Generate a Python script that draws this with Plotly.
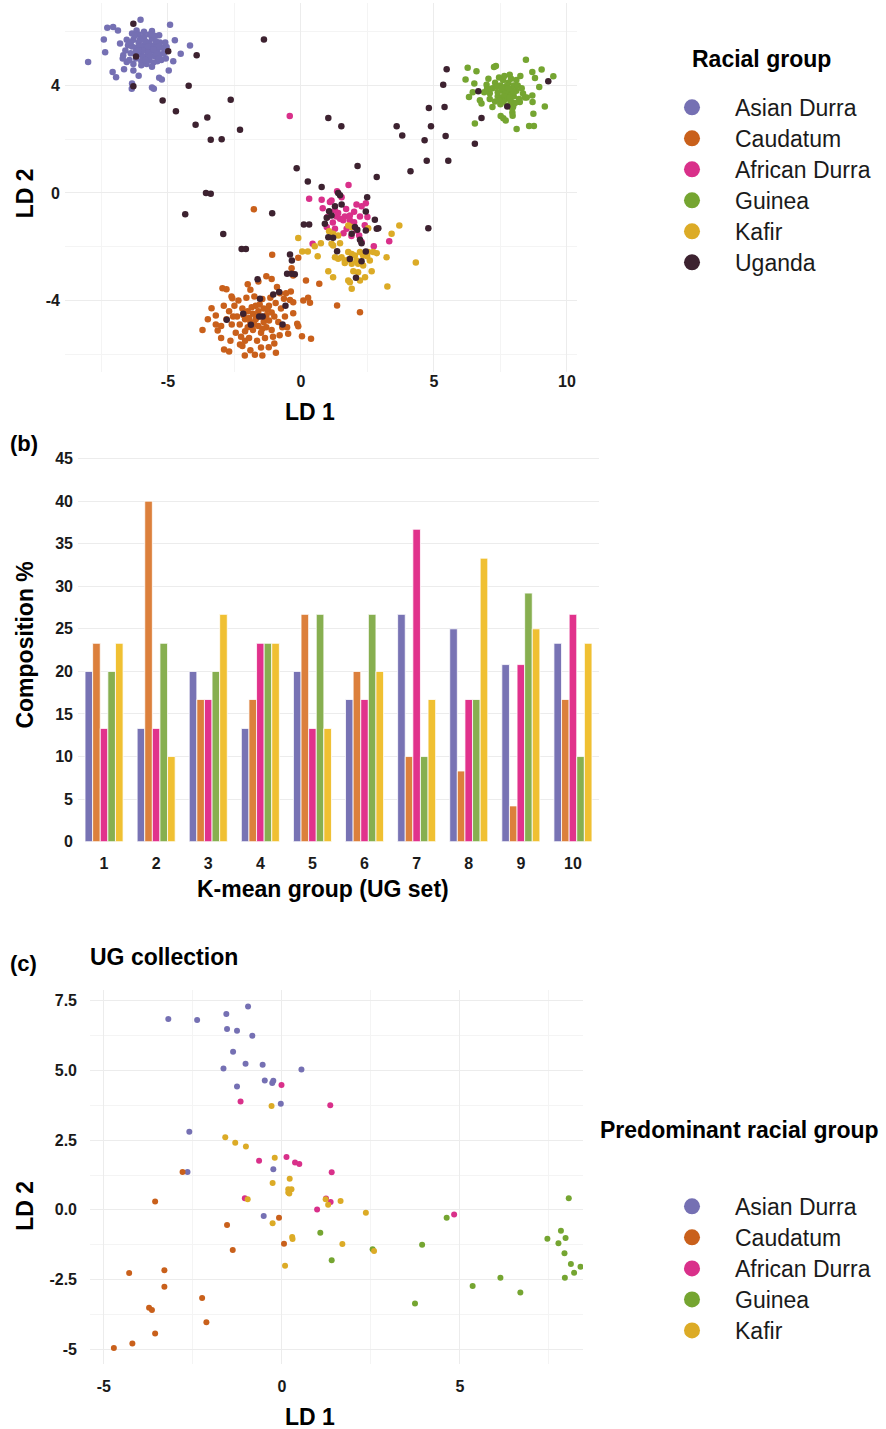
import plotly.graph_objects as go

FONT = "Liberation Sans, Arial, Helvetica, sans-serif"
INK = "#1a1a1a"

RACE_A = ["Asian Durra", "Caudatum", "African Durra", "Guinea", "Kafir", "Uganda"]
RACE_C = ["Asian Durra", "Caudatum", "African Durra", "Guinea", "Kafir"]
PT_COLORS = {"Asian Durra": "#7570b3", "Caudatum": "#c9601b", "African Durra": "#d9308a",
             "Guinea": "#75a531", "Kafir": "#dcab26", "Uganda": "#3d2230"}
BAR_COLORS = ["#7873b4", "#dc803c", "#e1328c", "#87af50", "#f0c032"]

# ---------------- panel (a): LD scores, all accessions ----------------
A_ASIAN = [(-8.00, 4.87), (-7.41, 5.71), (-7.36, 5.24), (-7.28, 6.15), (-7.06, 6.18), (-6.88, 6.05),
           (-7.08, 4.50), (-6.95, 4.31), (-6.35, 4.07), (-6.36, 3.88), (-5.60, 3.92), (-5.53, 3.88),
           (-6.03, 6.45), (-4.92, 6.26), (-4.74, 5.68), (-4.17, 5.49), (-4.52, 5.18), (-4.80, 4.90),
           (-4.97, 4.56), (-5.23, 4.22), (-5.33, 4.29), (-6.65, 4.60), (-6.30, 4.56), (-6.10, 4.36),
           (-6.80, 5.56), (-6.68, 5.12), (-6.55, 4.87), (-6.35, 5.93), (-6.18, 6.05), (-5.60, 6.03),
           (-5.33, 5.87), (-5.08, 5.00), (-5.05, 5.43),
           (-6.5, 5.5), (-6.4, 5.2), (-6.3, 5.7), (-6.2, 5.0), (-6.2, 5.4), (-6.1, 5.9), (-6.1, 5.6),
           (-6.0, 5.2), (-6.0, 4.9), (-5.9, 5.5), (-5.9, 5.8), (-5.8, 5.1), (-5.8, 5.35), (-5.7, 5.6),
           (-5.7, 4.95), (-5.6, 5.3), (-5.6, 5.75), (-5.5, 5.1), (-5.5, 5.5), (-5.4, 5.3), (-5.4, 4.9),
           (-5.3, 5.6), (-5.3, 5.15), (-5.2, 5.4), (-6.6, 5.3), (-6.45, 4.95), (-6.35, 5.45),
           (-6.25, 5.85), (-6.15, 5.15), (-6.05, 5.45), (-5.95, 5.05), (-5.85, 5.65), (-5.75, 5.25),
           (-5.65, 5.45), (-5.55, 4.85), (-5.45, 5.65), (-5.35, 5.45), (-5.25, 4.95), (-5.15, 5.2),
           (-5.1, 5.6), (-6.7, 5.0), (-6.55, 5.7), (-5.9, 6.0), (-5.7, 5.9), (-5.5, 5.85), (-6.0, 4.75),
           (-5.8, 4.8), (-5.6, 4.7), (-6.3, 4.8), (-5.75, 5.45), (-5.95, 5.3), (-6.05, 5.7),
           (-5.65, 5.1), (-5.85, 4.95), (-6.4, 5.6), (-6.2, 5.25), (-5.45, 5.2), (-5.55, 5.35),
           (-6.1, 5.3), (-5.35, 5.0)]
A_CAUD = [(-1.77, -0.61), (-1.08, -2.30), (-3.70, -5.10), (-3.13, -5.12), (-3.36, -4.29), (-3.20, -4.56),
          (-2.95, -3.55), (-2.80, -3.58), (-2.61, -3.85), (-2.58, -3.92), (-2.11, -6.05), (-1.73, -6.02),
          (-1.45, -6.05), (-0.94, -5.95), (-1.21, -5.74), (-2.89, -5.83), (-2.29, -5.64), (-2.1, -5.5),
          (-0.10, -2.41), (-0.35, -2.80), (-0.29, -3.07), (0.19, -3.26), (0.69, -3.38), (-0.79, -3.73),
          (-0.56, -3.73), (-0.38, -3.67), (-0.64, -3.94), (-0.41, -3.98), (-0.29, -4.07), (0.09, -4.00),
          (0.27, -3.90), (0.34, -4.09), (-0.29, -4.48), (-0.14, -4.87), (-0.10, -4.96), (-0.52, -5.00),
          (-0.48, -5.24), (0.04, -5.33), (0.38, -5.43), (1.36, -4.19), (2.22, -4.44), (-1.6, -3.3),
          (-1.3, -3.1), (-1.1, -3.2), (-2.0, -3.4), (-1.9, -3.6), (-0.9, -3.5), (-3.0, -5.4),
          (-2.7, -5.9), (-1.0, -5.6), (-0.8, -5.3), (-0.6, -4.6), (-3.5, -4.7), (-3.2, -4.9),
          (-2.5, -4.2), (-2.4, -4.6), (-2.3, -4.9), (-2.2, -4.3), (-2.1, -4.7), (-2.0, -5.0),
          (-2.0, -4.4), (-1.9, -4.8), (-1.8, -4.5), (-1.8, -5.1), (-1.7, -4.2), (-1.7, -4.7),
          (-1.6, -4.95), (-1.6, -4.4), (-1.5, -4.6), (-1.5, -5.2), (-1.4, -4.3), (-1.4, -4.8),
          (-1.3, -4.55), (-1.3, -5.0), (-1.2, -4.2), (-1.2, -4.75), (-1.1, -4.45), (-1.1, -5.1),
          (-1.0, -4.6), (-2.6, -4.9), (-2.7, -4.4), (-2.8, -4.7), (-2.45, -5.2), (-2.25, -5.35),
          (-1.95, -5.4), (-1.65, -5.5), (-1.35, -5.4), (-2.35, -4.0), (-2.05, -3.9), (-1.75, -3.85),
          (-1.45, -3.95), (-1.15, -3.9), (-0.95, -4.1), (-0.85, -4.8), (-2.15, -4.55), (-1.85, -4.25),
          (-1.55, -4.15), (-1.25, -4.35), (-1.95, -4.65), (-1.65, -4.6), (-1.35, -4.65), (-2.55, -4.6),
          (-1.75, -4.9), (-2.1, -5.15), (-1.45, -5.05), (-0.75, -4.3), (-0.7, -5.0), (-2.9, -4.2),
          (-3.0, -4.95), (-2.2, -5.7), (-1.9, -5.85), (-1.5, -5.75), (-2.65, -5.5), (-1.05, -5.35)]
A_AFR = [(-0.42, 2.86), (1.79, 0.30), (1.36, 0.06), (0.31, -0.22), (0.78, -0.25), (1.09, -0.34),
         (1.15, -0.28), (1.53, -0.16), (0.82, -0.57), (1.28, -0.65), (1.34, -0.88), (1.47, -0.96),
         (1.65, -0.88), (1.84, -0.84), (2.09, -0.43), (2.28, -0.50), (2.44, -0.38), (1.84, -1.02),
         (1.91, -1.12), (2.00, -1.09), (2.22, -0.88), (0.97, -1.27), (1.28, -1.33), (1.72, -1.33),
         (2.09, -1.40), (2.19, -1.58), (2.28, -1.83), (2.74, -1.98), (3.32, -1.80), (0.44, -1.89),
         (1.59, -1.02), (1.4, -0.75), (1.7, -0.6), (2.0, -0.7), (1.2, -1.1), (2.4, -1.2), (1.0, -0.9),
         (1.6, -1.5), (2.5, -0.9), (1.9, -1.6)]
A_GUIN = [(8.46, 4.96), (6.27, 4.66), (6.60, 4.53), (7.26, 4.69), (7.33, 4.72), (9.05, 4.59), (8.70, 4.50),
          (9.49, 4.34), (8.80, 4.28), (8.96, 3.94), (6.19, 4.22), (6.52, 4.07), (6.98, 4.03), (6.32, 3.57),
          (6.46, 3.75), (6.89, 3.75), (7.10, 3.71), (6.73, 3.45), (6.79, 3.33), (9.17, 3.22), (8.70, 3.63),
          (8.49, 3.55), (8.71, 3.38), (8.74, 2.95), (8.58, 2.49), (8.76, 2.49), (8.11, 2.38), (6.54, 2.58),
          (7.51, 2.86), (7.61, 2.78), (7.70, 2.70), (7.95, 2.99), (7.96, 2.87), (7.86, 3.22), (7.98, 3.22),
          (8.23, 3.38), (8.42, 3.55),
          (7.2, 3.9), (7.3, 4.1), (7.4, 3.6), (7.5, 4.0), (7.5, 3.3), (7.6, 3.8), (7.6, 4.2), (7.7, 3.5),
          (7.7, 3.95), (7.8, 3.7), (7.8, 4.1), (7.9, 3.4), (7.9, 3.85), (8.0, 4.0), (8.0, 3.6), (8.1, 3.8),
          (8.1, 4.2), (8.2, 3.5), (7.3, 3.4), (7.4, 3.75), (7.55, 3.55), (7.65, 4.35), (7.75, 3.25),
          (7.85, 4.4), (7.95, 3.15), (8.05, 3.35), (8.15, 4.0), (8.3, 3.9), (7.1, 3.5), (7.2, 3.2),
          (7.35, 3.95), (7.45, 4.3), (7.65, 3.65), (7.7, 3.8), (7.75, 4.0), (7.85, 3.55), (7.6, 3.4),
          (8.0, 3.75), (7.45, 3.45), (7.9, 4.25), (8.25, 4.35), (7.0, 3.9), (7.05, 4.25), (8.35, 3.7),
          (7.55, 3.9), (7.8, 3.9)]
A_KAF = [(-0.10, -1.68), (0.05, -2.18), (0.26, -2.18), (0.52, -1.98), (0.75, -1.87), (0.63, -2.36),
         (1.06, -1.43), (1.21, -1.52), (1.40, -1.58), (1.15, -1.89), (1.21, -1.96), (1.47, -1.87),
         (1.78, -1.21), (1.91, -1.27), (2.53, -1.31), (3.70, -1.21), (3.41, -1.52), (3.22, -2.39),
         (4.32, -2.59), (3.25, -3.48), (1.28, -2.39), (1.40, -2.45), (1.53, -2.39), (1.65, -2.51),
         (1.78, -2.20), (1.91, -2.27), (1.78, -2.49), (2.03, -2.33), (2.09, -2.51), (2.22, -2.20),
         (2.34, -2.33), (2.49, -2.36), (2.59, -2.51), (2.53, -2.20), (2.72, -2.20), (2.85, -2.24),
         (1.65, -2.61), (1.91, -2.64), (2.15, -2.64), (2.34, -2.70), (1.03, -2.91), (1.21, -3.14),
         (1.97, -2.91), (2.15, -2.95), (2.41, -3.14), (1.78, -3.26), (1.91, -3.57), (2.22, -3.26),
         (2.66, -2.91), (1.84, -3.32)]
A_UGA = [(-6.30, 6.30), (-6.20, 5.08), (-4.99, 5.27), (-3.92, 5.12), (-1.39, 5.71), (-4.22, 3.99),
         (-6.30, 3.97), (-5.20, 3.44), (-4.70, 3.04), (-2.64, 3.47), (-3.52, 2.81), (-3.96, 2.54),
         (-2.29, 2.35), (-3.39, 1.98), (-2.98, 2.00), (-0.16, 0.92), (-3.57, 0.0), (-3.39, -0.03),
         (5.48, 4.60), (5.35, 4.03), (4.81, 3.16), (5.40, 3.20), (4.89, 2.48), (5.44, 2.12), (4.65, 1.96),
         (3.60, 2.48), (3.81, 2.14), (4.73, 1.20), (5.54, 1.20), (4.12, 0.81), (2.85, 0.59), (2.13, 1.00),
         (1.03, 2.79), (1.52, 2.48), (0.26, 0.43), (0.78, 0.22), (1.40, 0.0), (2.49, -0.16), (6.54, 1.83),
         (6.79, 2.79), (6.67, 3.78), (7.76, 3.22), (9.30, 4.16),
         (-4.35, -0.79), (-1.08, -0.76), (-2.92, -1.53), (-2.23, -2.09), (-2.07, -2.09), (-0.41, -2.29),
         (-0.34, -2.51), (-0.52, -3.01), (-0.35, -3.01), (-0.23, -3.03), (-1.63, -3.21), (-0.82, -3.69),
         (-1.04, -3.78), (-1.54, -3.94), (-0.58, -4.20), (-2.17, -4.50), (-2.79, -4.72), (-1.57, -4.60),
         (-1.44, -4.60), (-1.88, -4.91), (-0.69, -4.90),
         (1.47, -0.09), (2.44, -0.69), (1.28, -0.50), (1.53, -0.43), (1.06, -0.68), (0.90, -1.15),
         (0.11, -1.17), (0.31, -1.17), (0.97, -0.92), (1.15, -0.84), (2.78, -1.00), (2.85, -1.33),
         (2.91, -1.31), (2.03, -1.27), (2.12, -1.37), (2.44, -1.40), (1.91, -1.52), (1.03, -1.65),
         (1.21, -1.67), (2.22, -1.74), (2.28, -1.87), (1.36, -2.17), (2.44, -2.18), (1.84, -2.46),
         (2.28, -2.54), (2.07, -3.16), (4.79, -1.31)]

# ---------------- panel (b): composition of K-means groups ----------------
K_GROUPS = [1, 2, 3, 4, 5, 6, 7, 8, 9, 10]
COMP_ASIAN = [20.0, 13.3, 20.0, 13.3, 20.0, 16.7, 26.7, 25.0, 20.8, 23.3]
COMP_CAUD = [23.3, 40.0, 16.7, 16.7, 26.7, 20.0, 10.0, 8.3, 4.2, 16.7]
COMP_AFR = [13.3, 13.3, 16.7, 23.3, 13.3, 16.7, 36.7, 16.7, 20.8, 26.7]
COMP_GUIN = [20.0, 23.3, 20.0, 23.3, 26.7, 26.7, 10.0, 16.7, 29.2, 10.0]
COMP_KAF = [23.3, 10.0, 26.7, 23.3, 13.3, 20.0, 16.7, 33.3, 25.0, 23.3]
COMP_TICKS = [0, 5, 10, 15, 20, 25, 30, 35, 40, 45]

# ---------------- panel (c): UG collection ----------------
C_ASIAN = [(-3.19, 6.85), (-2.38, 6.81), (-1.56, 7.03), (-0.95, 7.30), (-1.54, 6.49), (-1.26, 6.43),
           (-0.83, 6.25), (-1.37, 5.67), (-1.64, 5.07), (-1.02, 5.24), (-0.54, 5.21), (-0.48, 4.64),
           (-0.27, 4.55), (-0.24, 4.63), (-1.26, 4.43), (-0.03, 3.81), (-2.60, 2.80), (-2.65, 1.36),
           (-0.24, 1.46), (0.55, 5.04), (-0.51, -0.22)]
C_CAUD = [(-2.79, 1.36), (-3.56, 0.30), (-1.54, -0.54), (-1.38, -1.44), (-0.08, -0.28), (0.06, -1.22),
          (-4.29, -2.27), (-3.30, -2.17), (-3.30, -2.76), (-2.24, -3.16), (-3.73, -3.51), (-3.65, -3.59),
          (-2.12, -4.03), (-3.56, -4.44), (-4.20, -4.80), (-4.72, -4.96)]
C_AFR = [(-0.01, 4.48), (-1.16, 3.89), (-0.64, 1.76), (0.13, 1.90), (0.37, 1.70), (0.49, 1.65),
         (1.36, 3.75), (1.40, 1.35), (1.24, 0.41), (1.37, 0.28), (0.99, 0.01), (-1.04, 0.42), (4.84, -0.17)]
C_GUIN = [(1.08, -0.82), (1.40, -1.81), (2.55, -1.41), (3.94, -1.25), (3.74, -3.36), (4.63, -0.28),
          (5.36, -2.73), (6.14, -2.44), (6.70, -2.97), (7.46, -1.04), (7.77, -1.20), (7.84, -0.75),
          (7.97, -1.01), (7.94, -1.56), (8.12, -1.94), (8.39, -2.04), (8.21, -2.26), (7.95, -2.44),
          (8.06, 0.42)]
C_KAF = [(-0.29, 3.73), (-1.59, 2.61), (-1.31, 2.41), (-1.01, 2.27), (-0.20, 1.87), (0.22, 1.12),
         (-0.26, 0.96), (0.18, 0.74), (0.27, 0.74), (0.18, 0.62), (0.21, 0.59), (1.23, 0.38),
         (1.30, 0.18), (1.65, 0.32), (2.36, -0.10), (0.29, -0.97), (0.30, -1.05), (0.09, -2.01),
         (1.70, -1.23), (2.59, -1.48), (-0.96, 0.38), (-0.26, -0.48)]

A_X_TICKS = [-5, 0, 5, 10]
A_Y_TICKS = [-4, 0, 4]
C_X_TICKS = [-5, 0, 5]
C_Y_TICKS = [-5, -2.5, 0, 2.5, 5, 7.5]
C_Y_TICKTEXT = ["-5", "-2.5", "0.0", "2.5", "5.0", "7.5"]

A_DATA = dict(zip(RACE_A, [A_ASIAN, A_CAUD, A_AFR, A_GUIN, A_KAF, A_UGA]))
C_DATA = dict(zip(RACE_C, [C_ASIAN, C_CAUD, C_AFR, C_GUIN, C_KAF]))
COMP = [COMP_ASIAN, COMP_CAUD, COMP_AFR, COMP_GUIN, COMP_KAF]

W, H = 886, 1429
# the captured page is fitted back to 1429px; pre-compensate vertical placement
V_SCALE = 0.9911
V_SHIFT = 2.76


def fx(px):
    return min(1.0, max(0.0, px / W))


def fy(py):
    page = (py - V_SHIFT) / V_SCALE
    return min(1.0, max(0.0, 1 - page / H))


def dom_x(a, b):
    return [fx(a), fx(b)]


def dom_y(top, bottom):
    return [fy(bottom), fy(top)]


def legend_label(name):
    return '<span style="font-size:23px">' + name + "</span>"


fig = go.Figure()

for name in RACE_A:
    pts = A_DATA[name]
    fig.add_trace(go.Scatter(x=[p[0] for p in pts], y=[p[1] for p in pts], mode="markers",
                             marker=dict(size=6.5, color=PT_COLORS[name], line=dict(width=0)),
                             xaxis="x", yaxis="y", showlegend=False, name=name))
for name in RACE_A:
    fig.add_trace(go.Scatter(x=[None], y=[None], mode="markers", name=legend_label(name),
                             marker=dict(size=18, color=PT_COLORS[name]),
                             xaxis="x", yaxis="y", legend="legend", legendgroup="a" + name,
                             showlegend=True))

for i, name in enumerate(RACE_C):
    fig.add_trace(go.Bar(x=K_GROUPS, y=COMP[i], name=name,
                         marker=dict(color=BAR_COLORS[i], line=dict(color="white", width=0.8)),
                         xaxis="x2", yaxis="y2", showlegend=False))

for name in RACE_C:
    pts = C_DATA[name]
    fig.add_trace(go.Scatter(x=[p[0] for p in pts], y=[p[1] for p in pts], mode="markers",
                             marker=dict(size=6, color=PT_COLORS[name], line=dict(width=0)),
                             xaxis="x3", yaxis="y3", showlegend=False, name=name))
for name in RACE_C:
    fig.add_trace(go.Scatter(x=[None], y=[None], mode="markers", name=legend_label(name),
                             marker=dict(size=18, color=PT_COLORS[name]),
                             xaxis="x3", yaxis="y3", legend="legend2", legendgroup="c" + name,
                             showlegend=True))

tickfont = dict(family=FONT, size=16, color=INK, weight="bold")
grid = dict(showgrid=True, gridcolor="#ececec", gridwidth=1, zeroline=False, showline=False,
            ticks="", tickfont=tickfont)
minor_grid = dict(showgrid=True, gridcolor="#f4f4f4", gridwidth=0.8)

legend_common = dict(xanchor="left", yanchor="top", bgcolor="rgba(0,0,0,0)",
                     font=dict(family=FONT, size=21.55, color=INK), itemwidth=76, tracegroupgap=0,
                     traceorder="grouped")

fig.update_layout(
    width=W, height=H, autosize=False, margin=dict(l=0, r=0, t=0, b=0),
    paper_bgcolor="white", plot_bgcolor="white", bargap=0.27, bargroupgap=0, barmode="group",
    font=dict(family=FONT, color=INK),
    xaxis=dict(domain=dom_x(65, 577), range=[-8.87, 10.38], anchor="y", tickmode="array",
               tickvals=A_X_TICKS, ticktext=[str(v) for v in A_X_TICKS],
               minor=dict(tickmode="linear", tick0=0, dtick=2.5, **minor_grid), ticklabelstandoff=-2,
               **grid),
    yaxis=dict(domain=dom_y(3, 372), range=[-6.68, 7.06], anchor="x", tickmode="array",
               tickvals=A_Y_TICKS, ticktext=[str(v) for v in A_Y_TICKS],
               minor=dict(tickmode="linear", tick0=0, dtick=2, **minor_grid), ticklabelstandoff=4,
               **grid),
    xaxis2=dict(domain=dom_x(78, 599), range=[0.5, 10.5], anchor="y2", tickmode="array",
                tickvals=K_GROUPS, ticktext=[str(k) for k in K_GROUPS], ticklabelstandoff=10,
                **{**grid, "showgrid": False}),
    yaxis2=dict(domain=dom_y(453, 841), range=[0, 45.6], anchor="x2", tickmode="array",
                tickvals=COMP_TICKS, ticktext=[str(v) for v in COMP_TICKS], ticklabelstandoff=4,
                **grid),
    xaxis3=dict(domain=dom_x(90, 583), range=[-5.39, 8.46], anchor="y3", tickmode="array",
                tickvals=C_X_TICKS, ticktext=[str(v) for v in C_X_TICKS],
                minor=dict(tickmode="linear", tick0=0, dtick=2.5, **minor_grid), ticklabelstandoff=11,
                **grid),
    yaxis3=dict(domain=dom_y(989, 1363), range=[-5.53, 7.9], anchor="x3", tickmode="array",
                tickvals=C_Y_TICKS, ticktext=C_Y_TICKTEXT,
                minor=dict(tickmode="linear", tick0=0, dtick=1.25, **minor_grid), ticklabelstandoff=12,
                **grid),
    legend=dict(x=fx(649), y=fy(86.5), **legend_common),
    legend2=dict(x=fx(649), y=fy(1185), **legend_common),
)


def ann(text, x, y, size=23, angle=0, xanchor="center"):
    fig.add_annotation(text=text, x=fx(x), y=fy(y), xref="paper", yref="paper", showarrow=False,
                       font=dict(family=FONT, size=size, color="black"), textangle=angle,
                       xanchor=xanchor, yanchor="middle")


ann("<b>LD 1</b>", 310, 412)
ann("<b>LD 2</b>", 25, 193, angle=-90)
ann("<b>Racial group</b>", 690, 59, xanchor="left")
ann("<b>(b)</b>", 8, 443, size=22, xanchor="left")
ann("<b>Composition %</b>", 25, 645, angle=-90)
ann("<b>K-mean group (UG set)</b>", 323, 888)
ann("<b>(c)</b>", 8, 963, size=22, xanchor="left")
ann("<b>UG collection</b>", 88, 956, xanchor="left")
ann("<b>LD 1</b>", 310, 1416)
ann("<b>LD 2</b>", 25, 1205, angle=-90)
ann("<b>Predominant racial group</b>", 598, 1129, xanchor="left")

# remove the browser's default 8px body margin so the page is the figure size
fig.write_html("out.html", config={"displayModeBar": False},
               post_script="document.body.style.margin='0';")
